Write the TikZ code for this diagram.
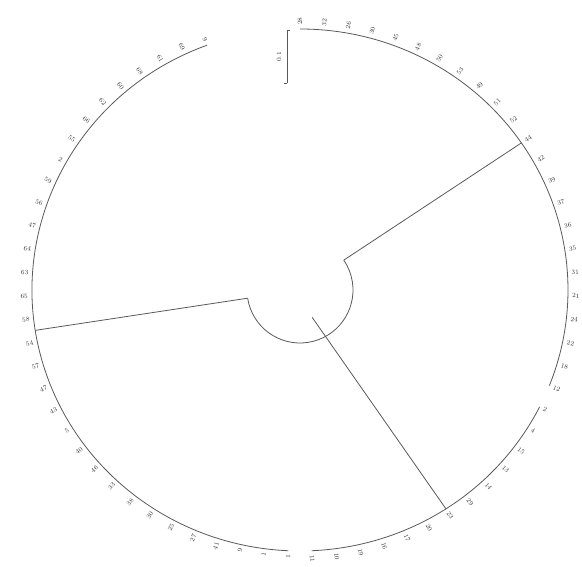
\documentclass[tikz,border=0pt]{standalone}
\usepackage{tikz}
\usetikzlibrary{positioning}

\tikzset{
  branch/.style={draw=black!65, line width=0.8pt},
  tiplabel/.style={font=\fontsize{6.5}{7}\selectfont, text=black!80, inner sep=0pt},
}

\begin{document}
\begin{tikzpicture}[x=1pt, y=1pt]
  \useasboundingbox (0,0) rectangle (582,567);
  \coordinate (root) at (300,277);

  \begin{scope}[shift={(root)}]
    % clade ends
    \coordinate (leftin)   at (188.9:53);
    \coordinate (leftout)  at (188.9:268 and 261);
    \coordinate (upin)     at (34.3:53);
    \coordinate (upout)    at (34.3:268 and 261);
    \coordinate (lowin)    at (-66:30);
    \coordinate (lowout)   at (-57:268 and 261);

    % inner arc and branches
    \draw[branch] (leftin) arc[start angle=188.9, end angle=394.3, radius=53];
    \draw[branch] (leftin) -- (leftout);
    \draw[branch] (upin) -- (upout);
    \draw[branch] (lowin) -- (lowout);

    % outer arcs
    \draw[branch] (110.3:268 and 261) arc[start angle=110.3, end angle=267.5, x radius=268, y radius=261];
    \draw[branch] (90:268 and 261) arc[start angle=90, end angle=-21.5, x radius=268, y radius=261];
    \draw[branch] (-26.6:268 and 261) arc[start angle=-26.6, end angle=-87.5, x radius=268, y radius=261];

    % tip labels
    \foreach \lab [count=\k from 0] in {28,32,26,30,45,48,50,53,49,51,52,44,42,39,37,36,35,31,21,24,22,18,12,
                                         2,4,15,13,14,29,23,20,17,16,19,10,11,
                                         1,1,9,41,27,25,30,38,33,46,40,5,43,47,57,54,58,65,63,64,47,56,59,2,55,66,62,60,68,61,69,9} {
      \pgfmathsetmacro{\ang}{90-\k*5.07}
      \pgfmathparse{\ang<-90 ? 1 : 0}
      \ifnum\pgfmathresult=1
        \node[tiplabel, anchor=east, rotate=\ang+180] (tip\k) at (\ang:272 and 265) {\lab};
      \else
        \node[tiplabel, anchor=west, rotate=\ang] (tip\k) at (\ang:272 and 265) {\lab};
      \fi
    }
  \end{scope}

  % scale bar
  \coordinate (bartop) at (287,537);
  \coordinate (barbot) at (287,484);
  \draw[branch] (bartop) -- (barbot);
  \draw[branch] (bartop) -- ++(3,0);
  \draw[branch] (barbot) -- ++(-3,0);
  \node[tiplabel, rotate=90] (barlab) at (279,510) {0.1};
\end{tikzpicture}
\end{document}
